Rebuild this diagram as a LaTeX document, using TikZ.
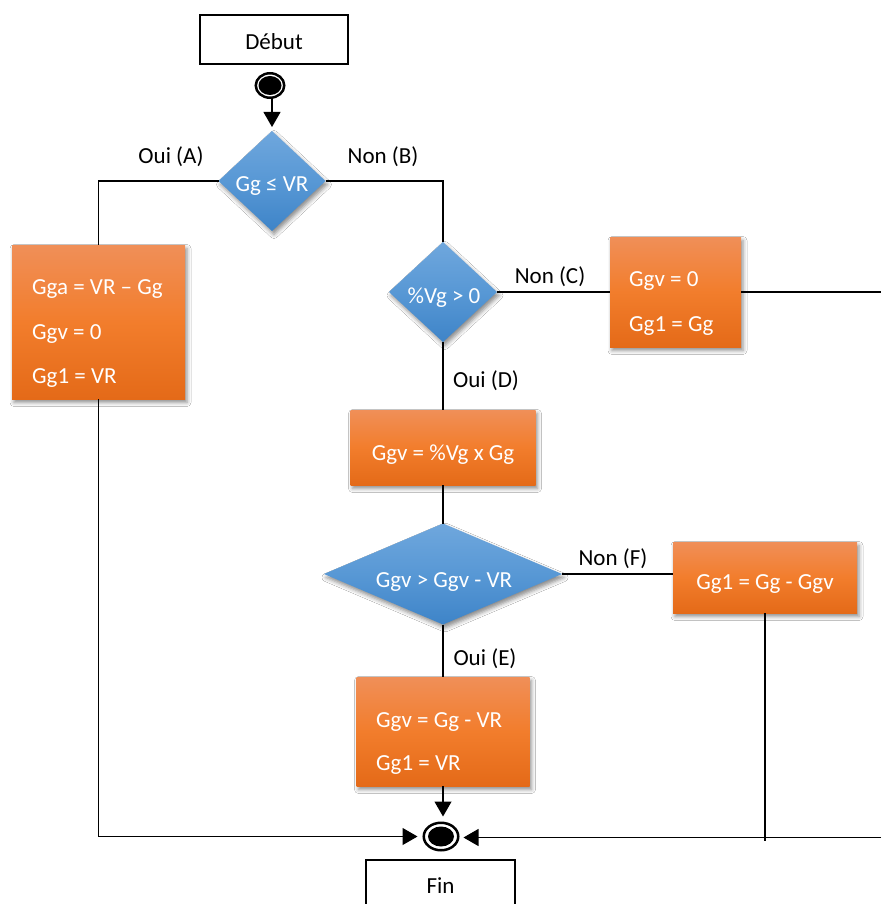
\documentclass[tikz,border=0pt]{standalone}
\usepackage{fontspec}
\setmainfont{Carlito}
\usetikzlibrary{arrows.meta,shapes.geometric,shadows.blur,calc}
\definecolor{orTop}{RGB}{240,143,88}
\definecolor{orMid}{RGB}{242,125,44}
\definecolor{orBot}{RGB}{228,106,24}
\definecolor{blTop}{RGB}{111,167,221}
\definecolor{blMid}{RGB}{88,152,213}
\definecolor{blBot}{RGB}{62,132,200}
\begin{document}
\begin{tikzpicture}[x=1pt,y=-1pt,
  txt/.style={font=\fontsize{23}{27}\selectfont, inner sep=0pt},
  wtxt/.style={txt, text=white},
  conn/.style={draw=black, line width=1.1pt},
  arr/.style={conn, -{Triangle[width=17pt,length=15pt]}},
  shad/.style={blur shadow={shadow xshift=2pt, shadow yshift=-3.5pt, shadow blur radius=4pt, shadow opacity=45}},
  obox/.style={rectangle, inner sep=0pt, shad, top color=orTop, bottom color=orBot, middle color=orMid},
  dmd/.style={diamond, inner sep=0pt, outer sep=0pt, shad, top color=blTop, bottom color=blBot, middle color=blMid},
  frame/.style={rectangle, draw=black, line width=1.5pt, inner sep=0pt, fill=white},
  ring/.style={ellipse, draw=black, line width=2.5pt, fill=white, inner sep=0pt},
  dot/.style={ellipse, fill=black, inner sep=0pt},
]
\useasboundingbox (0,0) rectangle (881,904);
\clip (0,0) rectangle (881,904);
\fill[white] (0,0) rectangle (881,904);

% start
\node[frame, minimum width=148pt, minimum height=49pt] (debut) at (274,39.5) {};
\node[txt, anchor=base] (tdebut) at (274,50) {Début};
\node[ring, minimum width=28.5pt, minimum height=24.5pt] (start) at (270,85.5) {};
\node[dot, minimum width=23pt, minimum height=19pt] (startdot) at (start) {};

% decision 1
\node[dmd, minimum width=107pt, minimum height=100pt] (d1) at (272,181) {};
\node[wtxt, anchor=base] (td1) at (272,192) {Gg ≤ VR};

% box A
\node[obox, minimum width=173pt, minimum height=154pt] (boxA) at (98.5,322) {};
\node[wtxt, anchor=base west] (ta1) at (32,294) {Gga = VR – Gg};
\node[wtxt, anchor=base west] (ta2) at (32,339) {Ggv = 0};
\node[wtxt, anchor=base west] (ta3) at (32,383) {Gg1 = VR};

% decision 2
\node[dmd, minimum width=108pt, minimum height=100pt] (d2) at (443,292) {};
\node[wtxt, anchor=base] (td2) at (444,303) {\%Vg > 0};

% box C
\node[obox, minimum width=131pt, minimum height=110pt] (boxC) at (675.5,292) {};
\node[wtxt, anchor=base west] (tc1) at (629,286) {Ggv = 0};
\node[wtxt, anchor=base west] (tc2) at (629,331) {Gg1 = Gg};

% box D
\node[obox, minimum width=185pt, minimum height=75pt] (boxD) at (443,447.5) {};
\node[wtxt, anchor=base] (td) at (443,460) {Ggv = \%Vg x Gg};

% decision 3
\node[dmd, minimum width=238pt, minimum height=101pt] (d3) at (443,574) {};
\node[wtxt, anchor=base] (td3) at (444,587) {Ggv > Ggv - VR};

% box F
\node[obox, minimum width=184pt, minimum height=71pt] (boxF) at (765,577.5) {};
\node[wtxt, anchor=base] (tf) at (765,589) {Gg1 = Gg - Ggv};

% box E
\node[obox, minimum width=173pt, minimum height=109pt] (boxE) at (443,731.5) {};
\node[wtxt, anchor=base west] (te1) at (376,727) {Ggv = Gg - VR};
\node[wtxt, anchor=base west] (te2) at (376,770) {Gg1 = VR};

% end
\node[ring, minimum width=34.5pt, minimum height=27.5pt] (endc) at (441,836.5) {};
\node[dot, minimum width=26pt, minimum height=20pt] (enddot) at (endc) {};
\node[frame, minimum width=149pt, minimum height=65pt] (fin) at (440.5,892.5) {};
\node[txt, anchor=base] (tfin) at (440.5,893) {Fin};

% edge coordinates
\coordinate (rc) at (881,292);
\coordinate (rb) at (881,837.5);

% connectors
\draw[arr, shorten >=4pt] (d1.north |- start.south) -- (d1.north);
\draw[conn] (d1.west) -| (boxA.north);
\draw[conn] (d1.east) -| (d2.north);
\draw[conn] (d2.east) -- (boxC.west);
\draw[conn] (boxC.east) -- (rc);
\draw[conn] (d2.south) -- (boxD.north);
\draw[conn] (boxD.south) -- (d3.north);
\draw[conn] (d3.east) -- (d3.east -| boxF.west);
\draw[conn] (d3.south) -- (boxE.north);
\draw[arr, shorten >=5pt] (boxE.south) -- (boxE.south |- endc.north);
\draw[arr, shorten >=5pt] (boxA.south) -- (boxA.south |- endc.west) -- (endc.west);
\draw[arr, shorten >=4pt] (rb) -- (endc.east |- rb);
\draw[conn] (boxF.south) -- ($(boxF.south |- rb)+(0,3)$);

% labels
\node[txt, anchor=base] (la) at (171,164) {Oui (A)};
\node[txt, anchor=base] (lb) at (383,164) {Non (B)};
\node[txt, anchor=base] (lc) at (550,283) {Non (C)};
\node[txt, anchor=base] (ld) at (486,387) {Oui (D)};
\node[txt, anchor=base] (lf) at (613,565) {Non (F)};
\node[txt, anchor=base] (le) at (485,665) {Oui (E)};
\end{tikzpicture}
\end{document}
